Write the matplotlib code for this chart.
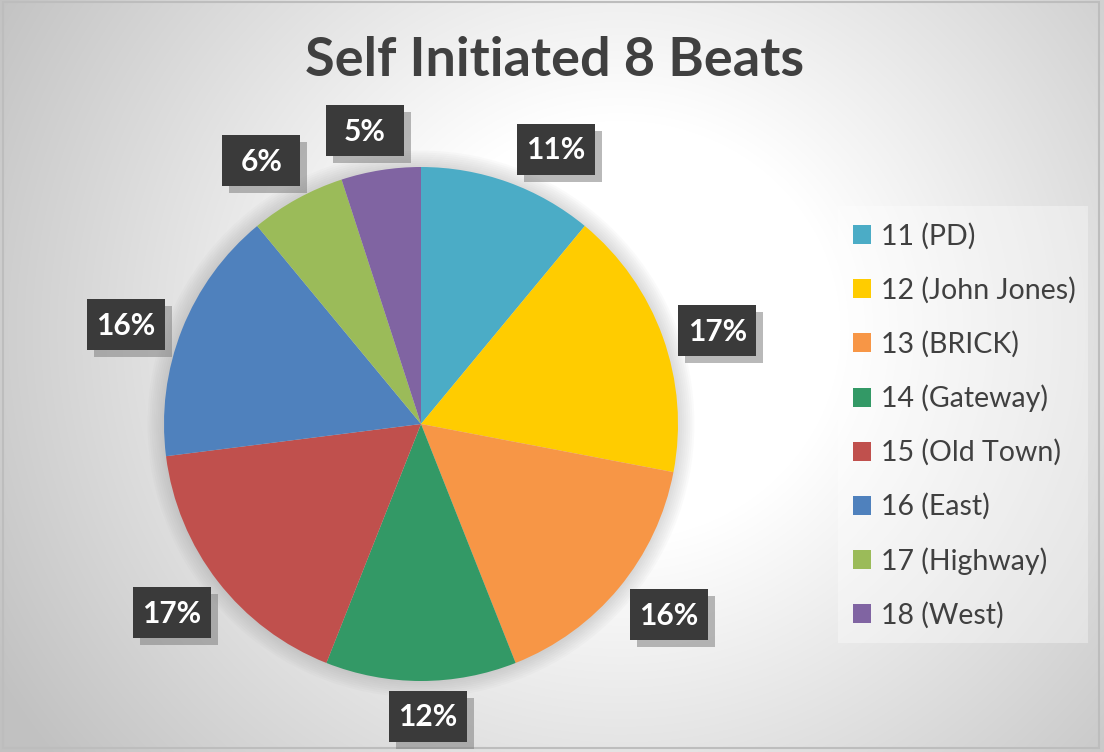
import numpy as np
import matplotlib
matplotlib.use("Agg")
import matplotlib.pyplot as plt
from matplotlib.patches import Rectangle, Circle
import matplotlib.patheffects as pe

# ---- data ----
categories = ["11 (PD)", "12 (John Jones)", "13 (BRICK)", "14 (Gateway)",
              "15 (Old Town)", "16 (East)", "17 (Highway)", "18 (West)"]
values = [11, 17, 16, 12, 17, 16, 6, 5]
colors = ["#4BACC6", "#FFCC00", "#F79646", "#339966",
          "#C0504D", "#4F81BD", "#9BBB59", "#8064A2"]
title = "Self Initiated 8 Beats"

W, H = 1104, 752
fig = plt.figure(figsize=(W / 100, H / 100), dpi=100)

# ---- background radial gradient ----
bg = fig.add_axes([0, 0, 1, 1])
yy, xx = np.mgrid[0:H, 0:W]
r = np.hypot(xx - 620, (yy - 330) * 1.05)
v = 1 - 0.00048 * np.clip(r - 220, 0, None)
v = np.clip(v, 0.76, 1)
bg.imshow(np.dstack([v, v, v]), extent=[0, W, H, 0], aspect="auto", interpolation="bilinear")
bg.set_xlim(0, W)
bg.set_ylim(H, 0)
bg.axis("off")
bg.add_patch(Rectangle((3, 2), W - 8, H - 6, fill=False, edgecolor="#bdbdbd", lw=1.5))
# legend panel
bg.add_patch(Rectangle((838, 206), 250, 437, facecolor="white", alpha=0.35, edgecolor="none"))

# ---- pie ----
cx, cy, R = 421, 424, 257
a = 1.5
side = 2 * a * R
ax = fig.add_axes([(cx - side / 2) / W, (H - cy - side / 2) / H, side / W, side / H])

# soft halo around pie
for k in range(8):
    ax.add_patch(Circle((0, 0), 1 + 0.008 * (k + 1), facecolor="#808080",
                        alpha=0.035, edgecolor="none", zorder=0))

wedges, texts = ax.pie(
    values, colors=colors, startangle=90, counterclock=False, radius=1,
    wedgeprops=dict(linewidth=0),
)
ax.set_xlim(-a, a)
ax.set_ylim(-a, a)
ax.axis("off")

# data labels: boxes placed just outside the pie edge (Excel "outside end" style)
box_w, box_h = 78 / R, 51 / R
gap = 9 / R
# small angular shifts of the label boxes (degrees), mimicking Excel's label layout
nudge = [-6.3, -2.3, 2.0, 1.4, -0.7, 3.0, 2.4, 1.8]
total = sum(values)
for i, (w, val) in enumerate(zip(wedges, values)):
    ang = np.deg2rad((w.theta1 + w.theta2) / 2 + nudge[i])
    c, s = np.cos(ang), np.sin(ang)
    d = 1 + gap + (box_w / 2) * abs(c) + (box_h / 2) * abs(s)
    x, y = d * c, d * s
    rect = Rectangle((x - box_w / 2, y - box_h / 2), box_w, box_h,
                     facecolor="#3a3a3a", edgecolor="none", zorder=5)
    rect.set_path_effects([pe.withSimplePatchShadow(offset=(5, -5), shadow_rgbFace="#808080", alpha=0.55)])
    ax.add_patch(rect)
    ax.text(x, y - 0.004, f"{val / total * 100:.0f}%", ha="center", va="center",
            color="white", fontsize=21.5, fontweight="bold", family="Lato", zorder=6)

# ---- title ----
fig.text(555 / W, 1 - 60 / H, title, ha="center", va="center", fontsize=39,
         fontweight="bold", color="#404040", family="Lato")

# ---- legend ----
leg = fig.legend(wedges, categories, loc="upper left",
                 bbox_to_anchor=(830 / W, 1 - 200 / H),
                 frameon=False, labelcolor="#404040",
                 handlelength=0.65, handleheight=0.65, handletextpad=0.35,
                 labelspacing=0.95, borderpad=0.3, prop=dict(family="Lato", size=20.5))

fig.savefig("out.png", dpi=100)
